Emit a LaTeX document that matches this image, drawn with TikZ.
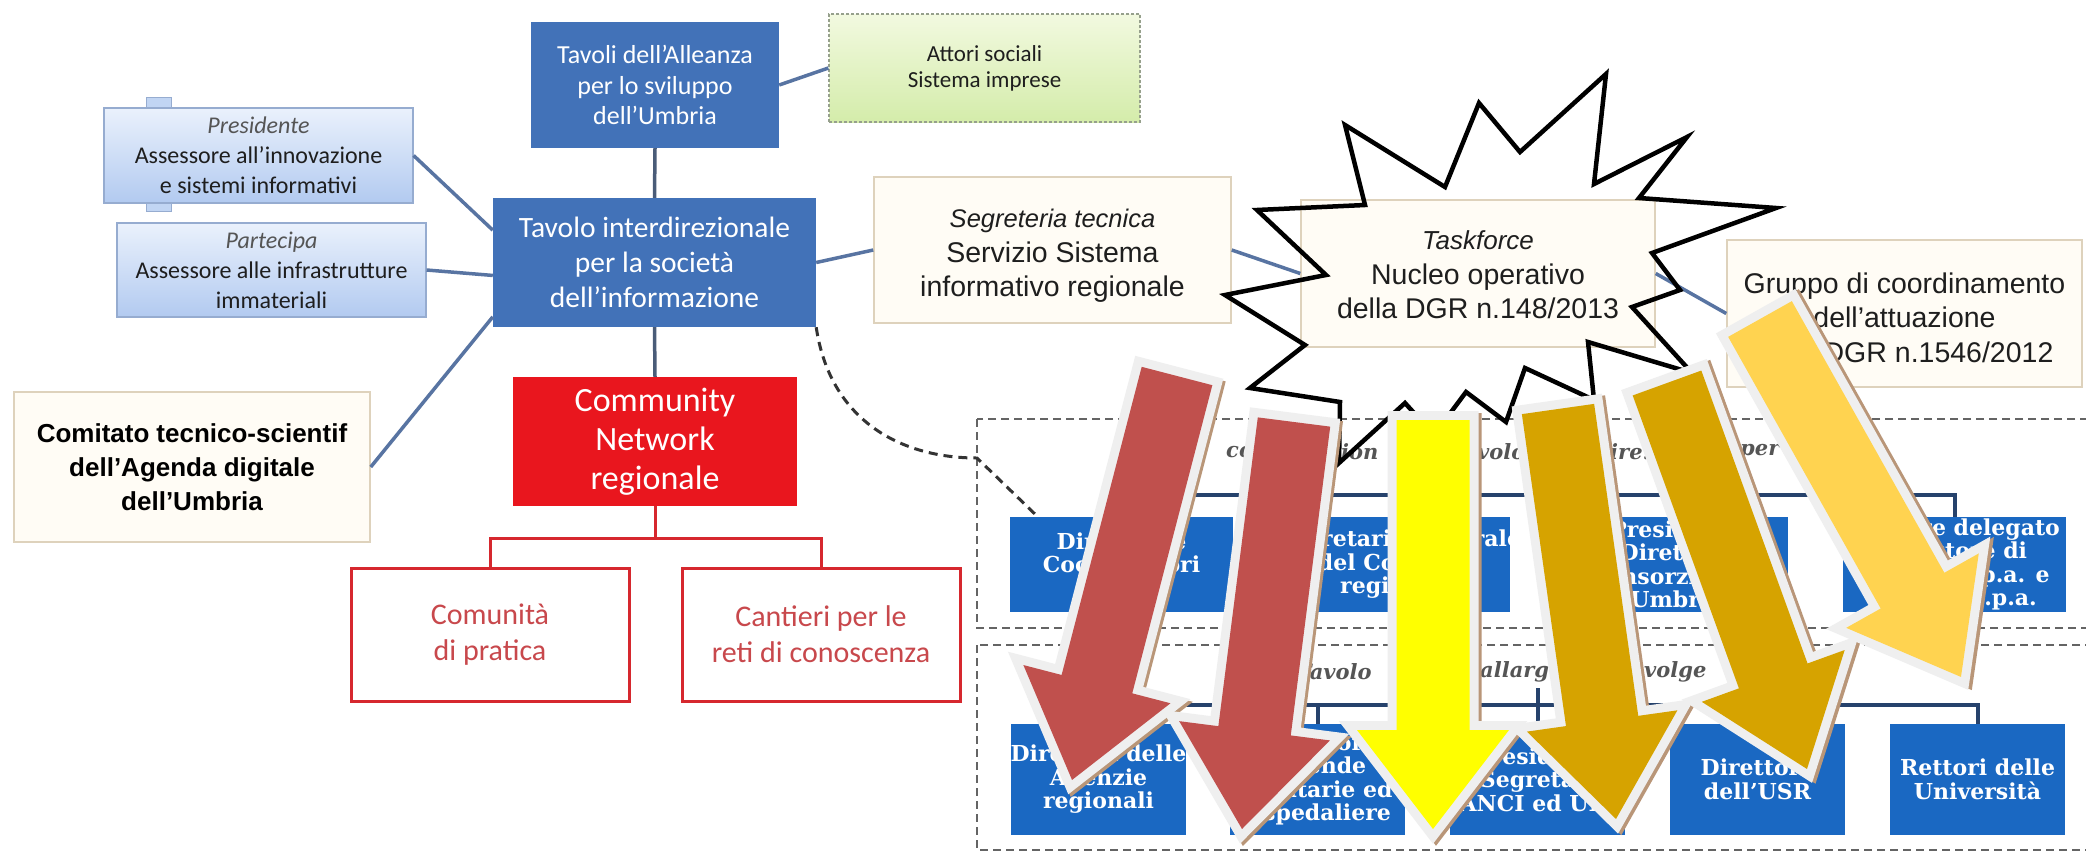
\documentclass[tikz,border=0pt]{standalone}
\usepackage{fontspec}
\setmainfont{Carlito}
\newfontfamily\arialf{Liberation Sans}
\newfontfamily\dvserif{DejaVu Serif}
\usetikzlibrary{calc}

\definecolor{boxblue}{RGB}{66,114,184}
\definecolor{rowblue}{RGB}{26,104,194}
\definecolor{linkblue}{RGB}{88,116,162}
\definecolor{darkline}{RGB}{74,92,120}
\definecolor{bracketc}{RGB}{38,66,108}
\definecolor{cream}{RGB}{255,252,245}
\definecolor{creamedge}{RGB}{222,210,188}
\definecolor{ltbluetop}{RGB}{234,241,252}
\definecolor{ltbluebot}{RGB}{178,202,240}
\definecolor{ltblueedge}{RGB}{150,172,208}
\definecolor{greentop}{RGB}{242,249,224}
\definecolor{greenbot}{RGB}{212,236,170}
\definecolor{greenedge}{RGB}{150,160,140}
\definecolor{commred}{RGB}{233,22,30}
\definecolor{redline}{RGB}{214,40,46}
\definecolor{redtext}{RGB}{200,72,76}
\definecolor{contgray}{RGB}{100,100,100}
\definecolor{arrred}{RGB}{192,80,77}
\definecolor{arryellow}{RGB}{255,255,0}
\definecolor{arrgold}{RGB}{214,163,0}
\definecolor{arrlight}{RGB}{255,211,80}
\definecolor{arrborder}{RGB}{239,239,239}
\definecolor{arrshadowc}{RGB}{185,150,120}
\definecolor{textdark}{RGB}{30,30,30}
\definecolor{itgray}{RGB}{85,85,85}

\newcommand\bigarrow[5]{%
  \pgfmathsetmacro\arrdx{#3-#1}%
  \pgfmathsetmacro\arrdy{#4-#2}%
  \pgfmathsetmacro\arrang{atan2(\arrdx,\arrdy)}%
  \pgfmathsetmacro\arrlen{veclen(\arrdx,\arrdy)}%
  \pgfmathsetmacro\arrbase{\arrlen-99}%
  \begin{scope}[shift={(#1,#2)},rotate=\arrang]
    \draw[line width=18pt,draw=arrshadowc,line join=miter,shift={(3,2)}]
      (-36.5,0) -- (36.5,0) -- (36.5,\arrbase) -- (76,\arrbase) -- (0,\arrlen) -- (-76,\arrbase) -- (-36.5,\arrbase) -- cycle;
    \draw[line width=18pt,draw=arrborder,line join=miter]
      (-36.5,0) -- (36.5,0) -- (36.5,\arrbase) -- (76,\arrbase) -- (0,\arrlen) -- (-76,\arrbase) -- (-36.5,\arrbase) -- cycle;
    \fill[#5]
      (-36.5,0) -- (36.5,0) -- (36.5,\arrbase) -- (76,\arrbase) -- (0,\arrlen) -- (-76,\arrbase) -- (-36.5,\arrbase) -- cycle;
  \end{scope}}
\newcommand\zw[1]{\makebox[0pt][c]{#1}}

\begin{document}
\begin{tikzpicture}[x=1pt,y=-1pt,
  bluebox/.style={fill=boxblue,text=white,align=center,inner sep=0pt},
  cbox/.style={fill=cream,draw=creamedge,line width=1.5pt,inner sep=0pt},
  ctext/.style={align=center,inner sep=0pt,text=textdark,font=\arialf\fontsize{28.5}{34.5}\selectfont},
  lbbox/.style={top color=ltbluetop,bottom color=ltbluebot,draw=ltblueedge,line width=1.2pt,align=center,inner sep=0pt,text=textdark,font=\fontsize{24}{30}\selectfont},
  rowbox/.style={fill=rowblue,text=white,align=center,inner sep=0pt,font=\dvserif\bfseries\fontsize{22}{23.5}\selectfont},
  rowtop/.style={rowbox,minimum width=223pt,minimum height=95pt},
  rowbot/.style={rowbox,minimum width=175pt,minimum height=111pt},
  lnk/.style={draw=linkblue,line width=3.5pt},
  contbox/.style={draw=contgray,line width=2.5pt,dash pattern=on 8pt off 5pt},
  frag/.style={anchor=west,text=itgray,inner sep=0pt,font=\dvserif\bfseries\itshape\fontsize{21}{24}\selectfont},
  redlnk/.style={draw=redline,line width=3pt},
  brk/.style={draw=bracketc,line width=4pt},
  redoutline/.style={fill=white,draw=redline,line width=3pt,align=center,inner sep=0pt,text=redtext,minimum width=278pt,minimum height=133pt,font=\fontsize{30}{36}\selectfont}
]
\useasboundingbox (0,0) rectangle (2086,852);
\fill[white] (0,0) rectangle (2086,852);

% dashed containers
\draw[contbox] (977,419) rectangle (2110,628);
\draw[contbox] (977,645) rectangle (2110,850);

% top-left cluster
\node[bluebox,minimum width=248pt,minimum height=126pt,font=\fontsize{26}{30.5}\selectfont] (tavoli) at (655,85) {Tavoli dell’Alleanza\\per lo sviluppo\\dell’Umbria};
\node[top color=greentop,bottom color=greenbot,draw=greenedge,line width=1.2pt,dash pattern=on 3pt off 2pt,align=center,inner sep=0pt,text=textdark,minimum width=311pt,minimum height=108pt,font=\fontsize{23}{26}\selectfont] (attori) at (984.5,68) {Attori sociali\\Sistema imprese};

\fill[ltbluebot!80!white,draw=ltblueedge,line width=1pt] (146,97) rectangle (171,108);
\fill[ltbluebot!80!white,draw=ltblueedge,line width=1pt] (146,203) rectangle (171,211);
\node[lbbox,minimum width=309pt,minimum height=95pt] (pres) at (258.5,155.5) {\textit{\color{itgray}Presidente}\\Assessore all’innovazione\\e sistemi informativi};
\node[lbbox,minimum width=309pt,minimum height=94pt] (part) at (271.5,270) {\textit{\color{itgray}Partecipa}\\Assessore alle infrastrutture\\immateriali};

\node[bluebox,minimum width=323pt,minimum height=129pt,font=\fontsize{29.5}{35}\selectfont] (tavolo) at (654.5,262.5) {Tavolo interdirezionale\\per la società\\dell’informazione};

\node[cbox,minimum width=356pt,minimum height=150pt,align=center,text=black,font=\arialf\bfseries\fontsize{26}{34}\selectfont] (comitato) at (192,467) {Comitato\hspace{7pt}tecnico-scientif\\dell’Agenda digitale\\dell’Umbria};

\node[fill=commred,text=white,align=center,inner sep=0pt,minimum width=284pt,minimum height=129pt,font=\fontsize{34}{39}\selectfont] (community) at (655,441.5) {Community\\Network\\regionale};
\node[redoutline] (comunita) at (490,634.5) {Comunità\\di pratica};
\node[redoutline] (cantieri) at (821,634.5) {Cantieri per le\\reti di conoscenza};

% cream boxes
\node[cbox,minimum width=357pt,minimum height=146pt] (seg) at (1052.5,250) {};
\node[ctext] (segtxt) at (1052.5,256) {{\fontsize{25.5}{34.5}\selectfont\itshape Segreteria tecnica}\\Servizio Sistema\\informativo regionale};
\node[cbox,minimum width=354pt,minimum height=147pt] (task) at (1478,273.5) {};
\node[ctext] (tasktxt) at (1478,275) {{\fontsize{26}{34.5}\selectfont\itshape Taskforce}\\Nucleo operativo\\della DGR n.148/2013};
\node[cbox,minimum width=355pt,minimum height=147pt] (gruppo) at (1904.5,313.5) {};
\node[ctext] (gruppotxt) at (1904.5,317.5) {Gruppo di coordinamento\\dell’attuazione\\della DGR n.1546/2012};

% connectors left cluster
\draw[draw=darkline,line width=3.5pt] (tavoli.south) -- (tavolo.north);
\draw[lnk] (tavoli.east) -- (attori.west);
\draw[lnk] (pres.east) -- ($(tavolo.north west)!0.25!(tavolo.south west)$);
\draw[lnk] (part.east) -- ($(tavolo.north west)!0.6!(tavolo.south west)$);
\draw[lnk] (comitato.east) -- ($(tavolo.north west)!0.92!(tavolo.south west)$);
\draw[draw=darkline,line width=3.5pt] (tavolo.south) -- (community.north);
\draw[lnk] (tavolo.east) -- (seg.west);
\draw[lnk] (seg.east) -- (task.west);
\draw[lnk] (task.east) -- (gruppo.west);
\draw[redlnk] (community.south) -- ++(0,34);
\draw[redlnk] (comunita.north) -- ++(0,-28) -| (cantieri.north);

% row 1 boxes
\node[rowtop] (b1) at (1121.5,564.5) {Direttori e\\Coordinatori\\\mbox{}};
\node[rowtop] (b2) at (1398.5,564.5) {\zw{Segretario generale}\\del Consiglio\\regionale};
\node[rowtop] (b3) at (1676.5,564.5) {Presidente\\Direttore\\Consorzio SIR\\Umbria};
\node[rowtop] (b4) at (1954.5,564.5) {\zw{Amm.re delegato}\\Direttore di\\\zw{Webred s.p.a. e}\\\zw{Umbria s.p.a.}};
\draw[brk] (b1.north) -- ++(0,-22) -| (b4.north);
\draw[brk] (b2.north) -- ++(0,-22);
\draw[brk] (b3.north) -- ++(0,-22);

% row 2 boxes
\node[rowbot] (c1) at (1098.5,779.5) {\zw{Direttori delle}\\Agenzie\\regionali};
\node[rowbot] (c2) at (1317.5,779.5) {Direttori\\Aziende\\Sanitarie ed\\Ospedaliere};
\node[rowbot] (c3) at (1537.5,779.5) {Presidenti\\Segretari\\ANCI ed UPI};
\node[rowbot] (c4) at (1757.5,779.5) {Direttore\\dell’USR};
\node[rowbot] (c5) at (1977.5,779.5) {\zw{Rettori delle}\\Università};
\draw[brk] (c1.north) -- ++(0,-19) -| (c5.north);
\draw[brk] (c2.north) -- ++(0,-19);
\draw[brk] (c3.north) -- ++(0,-36);
\draw[brk] (c4.north) -- ++(0,-19);

% row labels (visible fragments)
\node[frag] (f1) at (1226,452) {co};
\node[frag] (f2) at (1341,452) {ion};
\node[frag] (f3) at (1477,452) {volo};
\node[frag] (f4) at (1610,452) {ire.};
\node[frag] (f5) at (1740,452) {per};
\node[frag] (g1) at (1296,672) {Tavolo};
\node[frag] (g2) at (1480,672) {allarg};
\node[frag] (g3) at (1644,672) {volge};

% dashed link from Tavolo to first box
\coordinate (dk) at (977,458);
\draw[draw=black!80,line width=3pt,dash pattern=on 9pt off 6pt] (tavolo.south east) .. controls (830,420) and (900,458) .. (dk) -- ($(b1.north west)+(28,0)$);

% starburst outline
\draw[black,line width=4.5pt,line join=miter]
 (1345,125) -- (1445,187) -- (1479,103) -- (1520,152) -- (1606,74) -- (1594,184) -- (1687,137) -- (1639,198) -- (1776,208) -- (1652,253) -- (1680,290) -- (1632,307) -- (1692,373) -- (1588,342) -- (1594,400) -- (1525,368) -- (1506,422) -- (1466,392) -- (1434,435) -- (1405,403) -- (1339,463) -- (1340,402) -- (1250,388) -- (1305,345) -- (1225,295) -- (1326,275) -- (1257,210) -- (1365,205) -- cycle;

% big arrows
\bigarrow{1177}{376}{1072}{780}{arrred}
\bigarrow{1294}{422}{1242}{829}{arrred}
\bigarrow{1433}{420}{1433}{829}{arryellow}
\bigarrow{1558}{409}{1616}{819}{arrgold}
\bigarrow{1667}{383}{1807}{769}{arrgold}
\bigarrow{1760}{319}{1961}{677}{arrlight}
\end{tikzpicture}
\end{document}
